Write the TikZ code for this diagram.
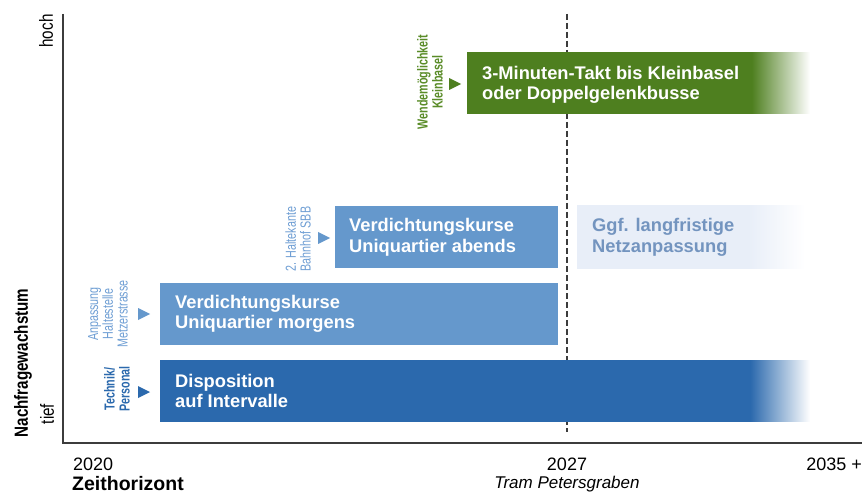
\documentclass[tikz,border=0pt]{standalone}
\usepackage{fontspec}
\setmainfont{Liberation Sans}
\newfontfamily\narrowfont[FakeStretch=0.74]{Liberation Sans}
\newfontfamily\axisnarrow[FakeStretch=0.8]{Liberation Sans}
\definecolor{dblue}{HTML}{2B69AD}
\definecolor{mblue}{HTML}{6598CC}
\definecolor{lblue}{HTML}{6E9ED4}
\definecolor{gbar}{HTML}{4E7F1F}
\definecolor{glabel}{HTML}{5A8C28}
\definecolor{paleblue}{HTML}{E8EEF8}
\definecolor{paletext}{HTML}{7394BF}
\definecolor{axisgray}{HTML}{3C3C3C}
\pgfdeclarehorizontalshading{dispfade}{100bp}{color(0bp)=(dblue); color(70.4bp)=(dblue); color(75bp)=(white); color(100bp)=(white)}
\pgfdeclarehorizontalshading{taktfade}{100bp}{color(0bp)=(gbar); color(66.5bp)=(gbar); color(75bp)=(white); color(100bp)=(white)}
\pgfdeclarehorizontalshading{ggffade}{100bp}{color(0bp)=(paleblue); color(62.5bp)=(paleblue); color(75bp)=(white); color(100bp)=(white)}
\tikzset{
  bartext/.style={anchor=west, inner sep=0pt, align=left, text=white,
    font=\fontsize{18.3}{20.5}\selectfont\bfseries},
  sidelabel/.style={rotate=90, inner sep=0pt, align=center,
    font=\narrowfont\fontsize{14.5}{14.8}\selectfont},
  sidelabelbold/.style={sidelabel, font=\narrowfont\fontsize{14.5}{15}\selectfont\bfseries},
  axislabel/.style={inner sep=0pt, text=black, font=\fontsize{18}{20}\selectfont},
  vaxis/.style={rotate=90, inner sep=0pt, text=black, font=\axisnarrow\fontsize{19}{21}\selectfont},
  marker/.style={inner sep=0pt},
}
\begin{document}
\begin{tikzpicture}[x=1pt,y=-1pt]
\useasboundingbox (0,0) rectangle (864,494);
\fill[white] (0,0) rectangle (864,494);

% dashed 2027 line (behind bars)
\coordinate (dtop) at (567,14);
\coordinate (dbot) at (567,432);
\draw[axisgray, line width=2pt, dash pattern=on 6pt off 3pt] (dtop) -- (dbot);

% axes
\coordinate (o) at (63,443);
\coordinate (ytop) at (63,14);
\coordinate (xend) at (862,443);
\draw[axisgray, line width=2pt] (ytop) -- (o) -- (xend);

% bar: Disposition
\shade[shading=dispfade] (160,360) rectangle (810,421);
\node[bartext] (disp) at (175,391) {Disposition\\auf Intervalle};

% bar: Verdichtungskurse morgens
\fill[mblue] (160,283) rectangle (558,345);
\node[bartext] (morg) at (175,314) {Verdichtungskurse\\Uniquartier morgens};

% bar: Verdichtungskurse abends
\fill[mblue] (335,206) rectangle (558,268);
\node[bartext] (abd) at (349,237.5) {Verdichtungskurse\\Uniquartier abends};

% bar: Ggf. langfristige Netzanpassung
\shade[shading=ggffade] (577,206) rectangle (805,268);
\node[bartext, text=paletext] (ggf) at (592,237.5) {Ggf. langfristige\\Netzanpassung};

% bar: 3-Minuten-Takt
\shade[shading=taktfade] (467,53) rectangle (810,114);
\node[bartext] (takt) at (482,85) {3-Minuten-Takt bis Kleinbasel\\oder Doppelgelenkbusse};

% triangles
\fill[dblue] (138,386) -- (150,392) -- (138,398) -- cycle;
\fill[mblue] (138,308) -- (150,314) -- (138,320) -- cycle;
\fill[mblue] (318,232) -- (330,238) -- (318,244) -- cycle;
\fill[gbar] (449,78) -- (461,84) -- (449,90) -- cycle;

% side labels
\node[sidelabelbold, text=dblue] (tech) at (117,389) {Technik/\\Personal};
\node[sidelabel, text=lblue] (anp) at (108,314) {Anpassung\\Haltestelle\\Metzerstrasse};
\node[sidelabel, text=lblue] (hk) at (298,239) {2. Haltekante\\Bahnhof SBB};
\node[sidelabelbold, text=glabel] (wend) at (430,82) {Wendemöglichkeit\\Kleinbasel};

% vertical axis labels
\node[vaxis] (hoch) at (46,31) {hoch};
\node[vaxis] (tief) at (47,414) {tief};
\node[vaxis, font=\axisnarrow\fontsize{19}{21}\selectfont\bfseries] (nach) at (23,363) {Nachfragewachstum};

% horizontal axis labels
\node[axislabel, anchor=west] (y2020) at (73,464) {2020};
\node[axislabel, anchor=west, font=\fontsize{19.5}{21}\selectfont\bfseries] (zeit) at (72,483.5) {Zeithorizont};
\node[axislabel] (y2027) at (567,464) {2027};
\node[axislabel, font=\fontsize{17}{20}\selectfont\itshape] (tram) at (567,484) {Tram Petersgraben};
\node[axislabel, anchor=east] (y2035) at (862,464) {2035 +};
\end{tikzpicture}
\end{document}
